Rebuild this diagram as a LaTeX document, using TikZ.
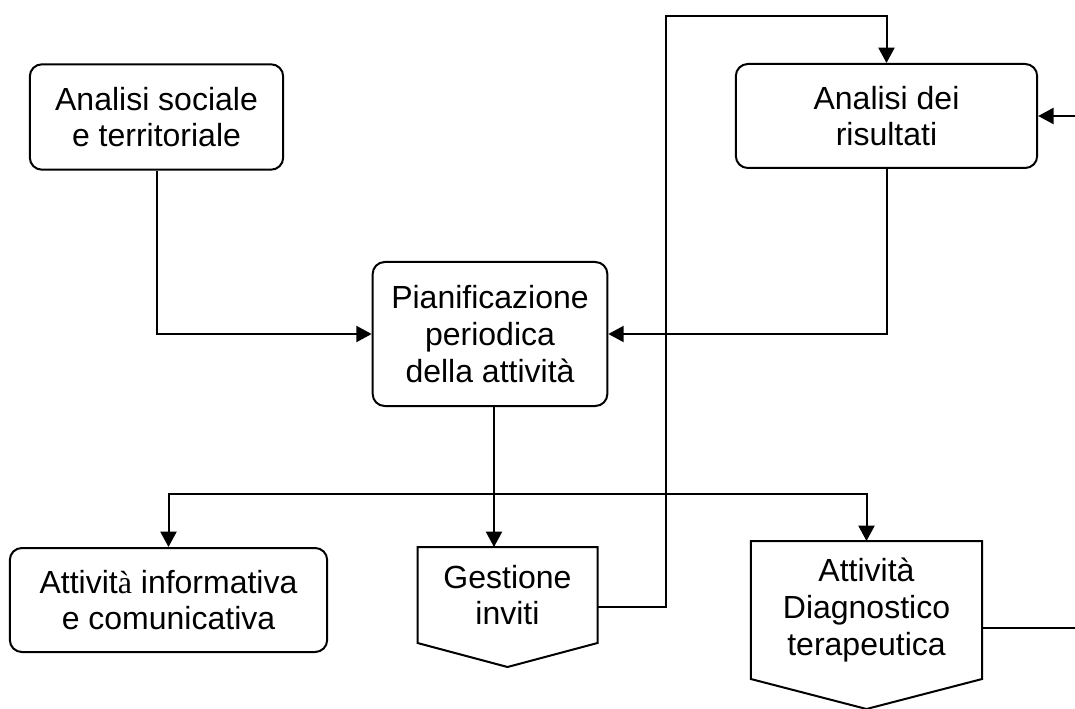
\documentclass[tikz,border=0pt]{standalone}
\usepackage{fontspec}
\setmainfont{Liberation Sans}
\newfontfamily\serifletter{Liberation Serif}
\usetikzlibrary{arrows.meta}

\begin{document}
\begin{tikzpicture}[x=0.75pt, y=-0.75pt, line width=1.5pt,
        font=\fontsize{24}{27.6}\selectfont,
        pfeil/.style={-{Triangle[length=11.5pt,width=12pt]}}]
    \useasboundingbox (0,0) rectangle (1075,709);
    \begin{scope}[every node/.style={draw, rounded corners=9pt, align=center, inner sep=0pt}]
        \node[minimum width=190pt, minimum height=79pt] (sociale) at (156.5, 117) {Analisi sociale\\e territoriale};
        \node[minimum width=226pt, minimum height=78pt] (risultati) at (886.5, 116) {Analisi dei\\risultati};
        \node[minimum width=176pt, minimum height=108pt] (piano) at (490, 334) {Pianificazione\\periodica\\della attività};
        \node[minimum width=238pt, minimum height=78pt] (info) at (168.5, 600) {Attivit{\serifletter à} informativa\\e comunicativa};
    \end{scope}
    \begin{scope}[every node/.style={align=center, inner sep=0pt}]
        \node[minimum width=133.5pt, minimum height=70.5pt] (inviti) at (507.5, 595) {Gestione\\inviti};
        \node[minimum width=172pt, minimum height=102pt] (diagnosi) at (866.5, 610) {Attività\\Diagnostico\\terapeutica};
    \end{scope}
    % punte in basso
    \draw (inviti.north west) -- (inviti.north east) -- (inviti.south east)
        -- ([yshift=-18pt]inviti.south) -- (inviti.south west) -- cycle;
    \draw (diagnosi.north west) -- (diagnosi.north east) -- (diagnosi.south east)
        -- ([yshift=-22.5pt]diagnosi.south) -- (diagnosi.south west) -- cycle;
    \coordinate (ritorno) at (1075, 116);
    \coordinate (uscita) at (1075, 628);
    \coordinate (giro) at (666, 16);
    \coordinate (ramo) at (494, 494);
    % connettori
    \draw[pfeil] (sociale.south) |- (piano.west);
    \draw[pfeil] (risultati.south) |- (piano.east);
    \draw[pfeil] (ritorno) -- (risultati.east);
    \draw[pfeil] ([yshift=-9pt]inviti.east) -| (giro) -| (risultati.north);
    \draw[pfeil] (piano.south -| ramo) -- (inviti.north -| ramo);
    \draw[pfeil] (ramo) -| (info.north);
    \draw[pfeil] (ramo) -| (diagnosi.north);
    \draw ([yshift=-13.5pt]diagnosi.east) -- (diagnosi.east |- uscita) -- (uscita);
\end{tikzpicture}
\end{document}
